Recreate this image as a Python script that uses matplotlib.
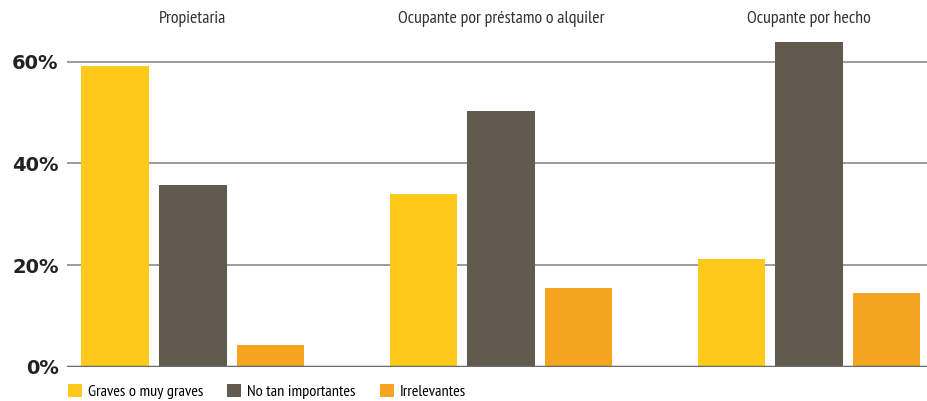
import numpy as np
import matplotlib.pyplot as plt
from matplotlib.patches import Patch

GROUPS = ['Propietaria', 'Ocupante por préstamo o alquiler', 'Ocupante por hecho']
SERIES = ['Graves o muy graves', 'No tan importantes', 'Irrelevantes']
GRAVES = [59.1, 34.0, 21.3]
NO_TAN = [35.8, 50.3, 63.9]
IRRELEVANTES = [4.3, 15.5, 14.5]
Y_TICKS = [0, 20, 40, 60]
Y_TICK_LABELS = ['0%', '20%', '40%', '60%']

COLOURS = ['#FDC91B', '#635A4E', '#F5A520']
NARROW = ['PT Sans Narrow', 'Liberation Sans Narrow', 'DejaVu Sans']


def main():
    fig = plt.figure(figsize=(9.27, 4.01), dpi=100)
    ax = fig.add_axes([0.0723, 0.0848, 0.9277, 0.8886])

    centers = np.arange(len(GROUPS)) * 3.97
    width = 0.87
    for i, (name, values) in enumerate(zip(SERIES, [GRAVES, NO_TAN, IRRELEVANTES])):
        ax.bar(centers + (i - 1), values, width=width, color=COLOURS[i], label=name, zorder=3)

    ax.set_xlim(-1.62, 9.46)
    ax.set_ylim(0, 70)

    for y in Y_TICKS[1:]:
        ax.axhline(y, color='#8a8a8a', linewidth=1.2, zorder=1)
    ax.axhline(0, color='#6a6a6a', linewidth=2.5, zorder=4)

    ax.set_yticks(Y_TICKS)
    ax.set_yticklabels(Y_TICK_LABELS, fontsize=14, fontweight='bold',
                       family='DejaVu Sans', color='#222222')
    ax.tick_params(axis='y', length=0, pad=6)
    ax.set_xticks([])
    for spine in ax.spines.values():
        spine.set_visible(False)

    for c, title in zip(centers, GROUPS):
        ax.text(c, 68.4, title, ha='center', va='center', fontsize=12.9,
                family=NARROW, color='#333333')

    handles = [Patch(facecolor=col, edgecolor='none') for col in COLOURS]
    fig.legend(handles, SERIES, loc='upper left', bbox_to_anchor=(0.0734, 0.043),
               ncol=3, frameon=False, handlelength=0.86, handleheight=0.86,
               handletextpad=0.37, columnspacing=1.48, borderaxespad=0, borderpad=0,
               prop={'family': NARROW, 'size': 11.7})

    fig.savefig('out.png', dpi=100)


if __name__ == '__main__':
    main()
